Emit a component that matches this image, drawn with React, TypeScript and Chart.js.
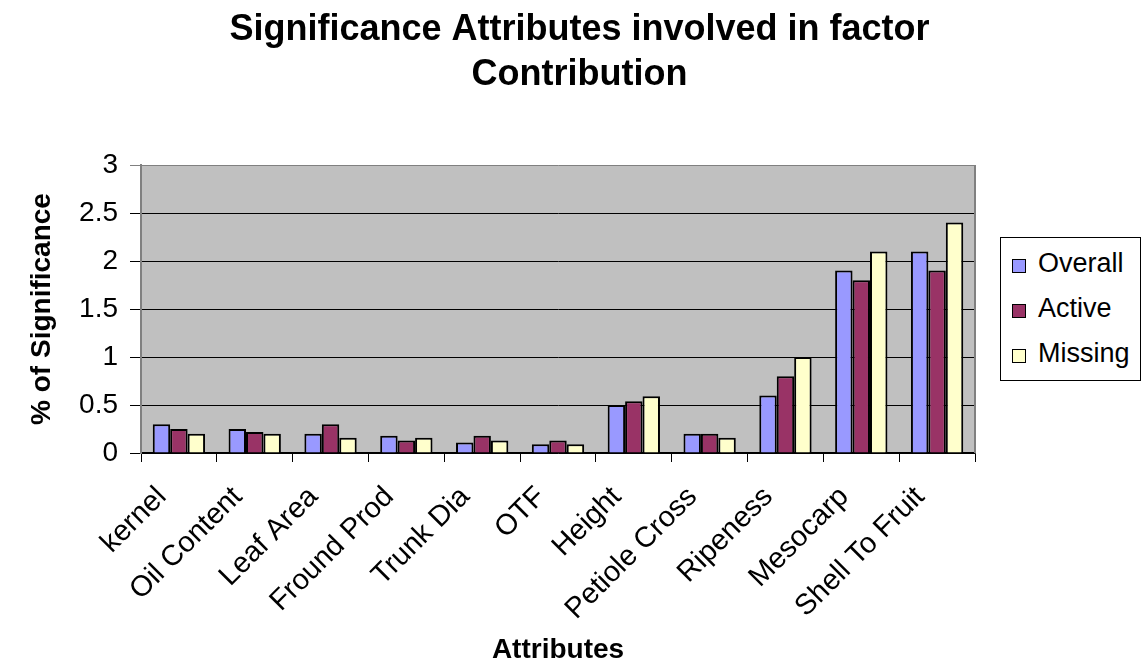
import React, { useEffect, useRef } from 'react';
import { Chart, registerables } from 'chart.js';

Chart.register(...registerables);

const categories = [
  'kernel',
  'Oil Content',
  'Leaf Area',
  'Fround Prod',
  'Trunk Dia',
  'OTF',
  'Height',
  'Petiole Cross',
  'Ripeness',
  'Mesocarp',
  'Shell To Fruit',
];
const overall = [0.3, 0.25, 0.2, 0.18, 0.11, 0.09, 0.5, 0.2, 0.6, 1.9, 2.1];
const active = [0.25, 0.22, 0.3, 0.13, 0.18, 0.13, 0.54, 0.2, 0.8, 1.8, 1.9];
const missing = [0.2, 0.2, 0.16, 0.16, 0.13, 0.09, 0.59, 0.16, 1.0, 2.1, 2.4];
const seriesNames = ['Overall', 'Active', 'Missing'];
const seriesColors = ['#9999FF', '#993366', '#FFFFCC'];
const yMin = 0;
const yMax = 3;
const yStep = 0.5;
const titleLines = ['Significance Attributes involved in factor', 'Contribution'];
const xTitle = 'Attributes';
const yTitle = '% of Significance';

const FONT = "'Liberation Sans', Arial, Helvetica, sans-serif";

const plotBg = {
  id: 'plotBg',
  beforeDraw(chart: any) {
    const { ctx, chartArea } = chart;
    ctx.save();
    ctx.fillStyle = '#C0C0C0';
    ctx.fillRect(chartArea.left, chartArea.top, chartArea.width, chartArea.height);
    ctx.restore();
  },
  afterDraw(chart: any) {
    const { ctx, chartArea } = chart;
    ctx.save();
    ctx.strokeStyle = '#808080';
    ctx.lineWidth = 2;
    ctx.beginPath();
    ctx.moveTo(chartArea.right, chartArea.top);
    ctx.lineTo(chartArea.right, chartArea.bottom);
    ctx.stroke();
    ctx.restore();
  },
};

export default function App() {
  const canvasRef = useRef<HTMLCanvasElement | null>(null);

  useEffect(() => {
    if (!canvasRef.current) return;
    const seriesData = [overall, active, missing];
    const chart = new Chart(canvasRef.current, {
      type: 'bar',
      data: {
        labels: categories,
        datasets: seriesNames.map((name, i) => ({
          label: name,
          data: seriesData[i],
          backgroundColor: seriesColors[i],
          borderColor: '#000000',
          borderWidth: 2,
          categoryPercentage: 0.69,
          barPercentage: 1.0,
          yAxisID: 'y',
        })),
      },
      options: {
        responsive: false,
        animation: false,
        devicePixelRatio: 1,
        layout: { padding: { left: 14, right: 0, top: 0, bottom: 0 } },
        plugins: {
          legend: { display: false },
          tooltip: { enabled: false },
          title: {
            display: true,
            text: titleLines,
            color: '#000',
            font: { family: FONT, size: 36, weight: 'bold', lineHeight: 1.25 },
            padding: { top: 7.5, bottom: 67.5 },
          },
        },
        scales: {
          x: {
            offset: true,
            grid: {
              offset: true,
              drawOnChartArea: false,
              drawTicks: true,
              tickLength: 9,
              color: '#000',
              lineWidth: 1,
            },
            border: { display: true, color: '#000', width: 1.5 },
            ticks: {
              autoSkip: false,
              maxRotation: 45,
              minRotation: 45,
              color: '#000',
              padding: 18,
              labelOffset: -17,
              font: { family: FONT, size: 29 },
            },
            title: {
              display: true,
              text: xTitle,
              color: '#000',
              font: { family: FONT, size: 28, weight: 'bold', lineHeight: 1 },
              padding: { top: 0, bottom: 0 },
            },
            afterFit(scale: any) {
              scale.height = 211;
            },
          },
          y: {
            min: yMin,
            max: yMax,
            position: 'left',
            grid: {
              color: (ctx: any) => (ctx.tick && ctx.tick.value === yMax ? '#808080' : '#000'),
              lineWidth: 1,
              tickLength: 11,
              drawTicks: true,
            },
            border: { display: true, color: '#808080', width: 2 },
            ticks: {
              stepSize: yStep,
              color: '#000',
              padding: 12,
              font: { family: FONT, size: 28 },
              callback: (v: any) => String(Number(v)),
            },
            title: {
              display: true,
              text: yTitle,
              color: '#000',
              font: { family: FONT, size: 28, weight: 'bold', lineHeight: 1 },
              padding: { top: 14, bottom: 0 },
            },
            afterFit(scale: any) {
              scale.width = 127;
            },
          },
          yRight: {
            type: 'linear',
            position: 'right',
            display: true,
            min: yMin,
            max: yMax,
            grid: { display: false, drawTicks: false },
            border: { display: false },
            ticks: { display: false },
            afterFit(scale: any) {
              scale.width = 170;
            },
          },
        },
      },
      plugins: [plotBg],
    } as any);
    return () => chart.destroy();
  }, []);

  const legendItemStyle: React.CSSProperties = {
    height: 45,
    display: 'flex',
    alignItems: 'center',
  };

  return (
    <div style={{ position: 'absolute', left: 0, top: 0, width: 1145, height: 664, background: '#fff' }}>
      <canvas ref={canvasRef} width={1145} height={664} style={{ display: 'block', width: 1145, height: 664 }} />
      <div
        style={{
          position: 'absolute',
          left: 1000,
          top: 237,
          width: 139,
          height: 139,
          border: '1px solid #000',
          background: '#fff',
          boxSizing: 'content-box',
          paddingTop: 3,
          fontFamily: FONT,
          fontSize: 27,
          color: '#000',
        }}
      >
        {seriesNames.map((name, i) => (
          <div key={name} style={legendItemStyle}>
            <span
              style={{
                display: 'inline-block',
                width: 12,
                height: 12,
                marginLeft: 11,
                marginRight: 12,
                marginTop: 5,
                border: '1.5px solid #000',
                background: seriesColors[i],
              }}
            />
            <span style={{ lineHeight: '45px' }}>{name}</span>
          </div>
        ))}
      </div>
    </div>
  );
}
